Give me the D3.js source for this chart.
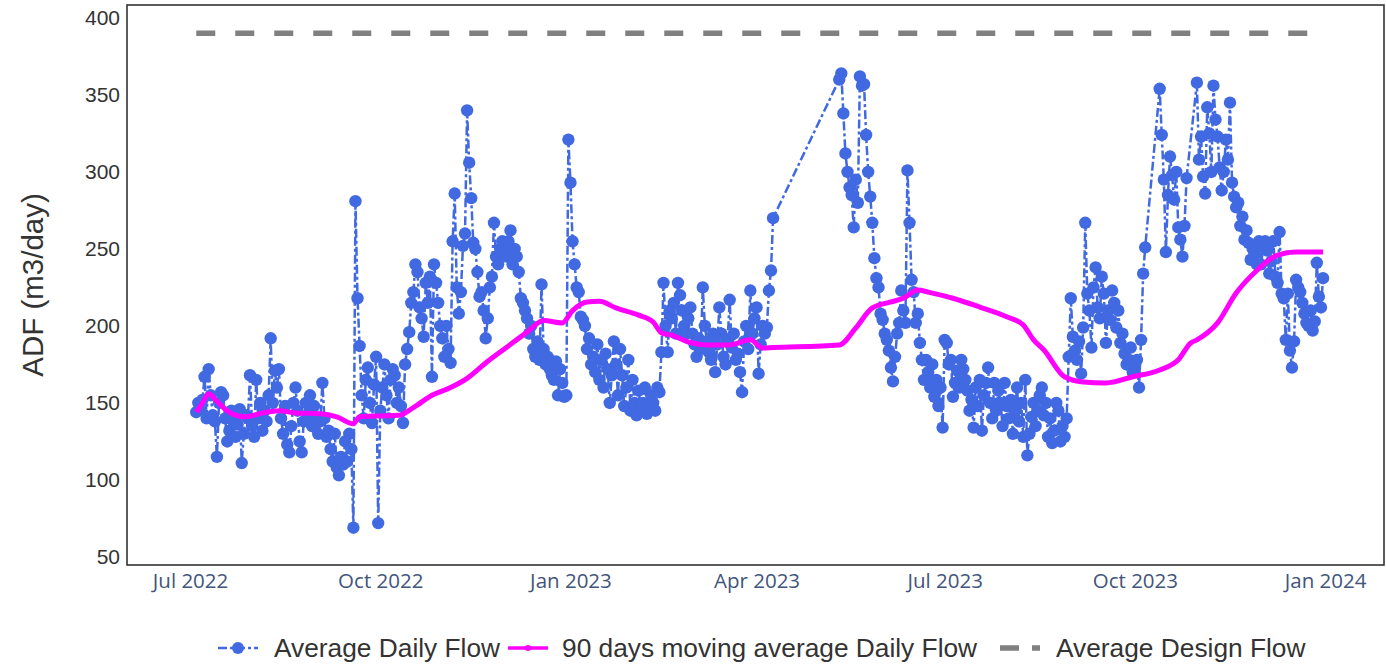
<!DOCTYPE html>
<html>
<head>
<meta charset="utf-8">
<script src="https://cdn.jsdelivr.net/npm/d3@7"></script>
<style>
  html, body { margin: 0; padding: 0; background: #ffffff; }
  svg { display: block; }
</style>
</head>
<body>
<svg id="chart" width="1386" height="664"></svg>
<script>
// ---- Average daily flow (m3/day), one array per month, null = no reading ----
const monthKeys = ["2022-07","2022-08","2022-09","2022-10","2022-11","2022-12",
                   "2023-01","2023-02","2023-03","2023-04","2023-05","2023-06",
                   "2023-07","2023-08","2023-09","2023-10","2023-11","2023-12"];

const flowJul2022 = [null,null,null,144,150,146,152,167,140,172,155,142,138,115,150,157,155,140,125,132,145,138,128,136,146,111,130,142,140,168,135];
const flowAug2022 = [128,165,140,150,132,145,138,155,192,150,171,160,172,140,130,148,123,118,135,150,160,145,125,118,138,150,142,155,135,148,140];
const flowSep2022 = [130,138,163,140,128,132,120,112,130,108,103,115,110,125,112,130,120,69,281,218,187,155,140,165,173,150,137,162,180,72];
const flowOct2022 = [145,160,175,155,140,165,172,168,150,160,148,137,175,185,196,215,222,240,235,212,205,193,228,215,232,167,240,228,215,200,192];
const flowNov2022 = [180,200,185,176,255,286,225,208,222,252,260,340,306,283,254,250,235,219,222,210,192,205,225,232,267,245,240,250,255,248];
const flowDec2022 = [245,255,262,240,250,245,235,218,215,210,205,195,200,185,180,190,178,227,185,175,180,172,168,165,177,155,172,163,154,155,321];
const flowJan2023 = [293,255,240,225,222,206,204,200,185,192,175,180,170,188,165,178,160,182,172,150,168,190,175,155,185,168,148,160,178,145,165];
const flowFeb2023 = [150,142,158,145,150,160,143,148,155,150,145,160,157,183,228,200,183,210,205,215,195,228,220,210,200,195,205,212];
const flowMar2023 = [195,188,180,192,185,225,200,190,183,178,195,170,188,212,195,180,175,190,217,186,195,178,182,170,157,190,200,185,223,195,205];
const flowApr2023 = [212,169,188,200,195,199,223,236,270,null,null,null,null,null,null,null,null,null,null,null,null,null,null,null,null,null,null,null,null,null];
const flowMay2023 = [null,null,null,null,null,null,null,null,null,null,360,364,338,312,300,290,285,264,295,280,362,356,357,324,300,284,267,244,231,225,208];
const flowJun2023 = [204,195,191,184,173,164,180,195,202,223,210,202,301,267,230,222,202,208,189,178,165,178,170,160,175,154,165,148,160,134];
const flowJul2023 = [191,189,175,178,154,163,171,160,178,172,165,158,145,152,134,160,148,165,132,155,163,173,150,140,163,145,158,150,135,163,148];
const flowAug2023 = [140,152,130,145,160,138,150,128,165,116,130,141,150,135,145,155,160,142,150,128,140,124,132,150,145,125,135,128,140,180,218];
const flowSep2023 = [193,184,178,190,169,199,267,221,210,186,225,238,212,205,232,221,189,210,204,223,215,199,210,189,195,182,175,178,186,170];
const flowOct2023 = [172,178,160,191,234,251,null,null,null,null,null,null,354,324,295,248,285,310,298,282,300,264,256,245,265,296,null,null,null,null,358];
const flowNov2023 = [308,323,297,286,342,325,300,356,334,323,303,288,300,321,308,345,293,284,277,280,265,271,256,262,254,243,250,247,240,255];
const flowDec2023 = [240,250,255,249,234,242,255,232,228,261,221,218,191,221,184,173,190,230,225,222,215,208,202,200,210,197,203,241,219,212,231];

const flowMonths = [flowJul2022, flowAug2022, flowSep2022, flowOct2022, flowNov2022, flowDec2022,
                    flowJan2023, flowFeb2023, flowMar2023, flowApr2023, flowMay2023, flowJun2023,
                    flowJul2023, flowAug2023, flowSep2023, flowOct2023, flowNov2023, flowDec2023];

// ---- 90 days moving average of the daily flow ----
const maDates  = ["2022-07-04","2022-07-07","2022-07-10","2022-07-14","2022-07-20","2022-07-28","2022-08-05","2022-08-13",
                  "2022-08-21","2022-09-02","2022-09-10","2022-09-18","2022-09-21","2022-10-01","2022-10-10","2022-10-17",
                  "2022-10-26","2022-11-04","2022-11-12","2022-11-21","2022-12-01","2022-12-11","2022-12-19","2022-12-28",
                  "2023-01-02","2023-01-09","2023-01-15","2023-01-23","2023-02-03","2023-02-10","2023-02-14","2023-02-19",
                  "2023-02-27","2023-03-09","2023-03-19","2023-03-29","2023-04-04","2023-04-09","2023-05-11","2023-05-19",
                  "2023-05-27","2023-06-05","2023-06-11","2023-06-18","2023-06-23","2023-07-05","2023-07-18","2023-07-31",
                  "2023-08-08","2023-08-13","2023-08-18","2023-08-28","2023-09-06","2023-09-17","2023-09-30","2023-10-13",
                  "2023-10-22","2023-10-28","2023-10-31","2023-11-10","2023-11-19","2023-11-29","2023-12-09","2023-12-18",
                  "2023-12-31"];
const maValues = [144,150,156,151,144,141,143.5,145,
                  143.5,143,141,136.5,141,141.6,142,147,
                  155,160,166,176,186,196,203.5,202,
                  210,215.6,216,211.7,207,202.6,195.5,194,
                  189.6,187.7,187.7,191,185.7,186,187.7,198.7,
                  211.7,215.6,218,223.4,222,218,212.3,206,
                  200.6,191,184.4,167,163.6,163,167,171.4,
                  178,189,191,202,221.4,236,246,248,
                  248];

// ---- Average design flow ----
const designFlowValue = 390;
const designFlowSpan = ["2022-07-04", "2023-12-31"];

// ---- Axis ticks ----
const yTickValues = [50, 100, 150, 200, 250, 300, 350, 400];
const xTickDates = ["2022-07-01","2022-10-01","2023-01-01","2023-04-01","2023-07-01","2023-10-01","2024-01-01"];
const xDomainDates = ["2022-05-31T12:00", "2024-01-29T12:00"];
const yDomain = [44.8, 408.4];

const seriesNames = ["Average Daily Flow", "90 days moving average Daily Flow", "Average Design Flow"];
const colors = { flow: "#4169E1", ma: "#FF00FF", design: "#808080" };

// ---- Build series ----
const parseDay = d3.timeParse("%Y-%m-%d");
const parseStamp = d3.timeParse("%Y-%m-%dT%H:%M");
const daily = [];
monthKeys.forEach((key, i) => {
  flowMonths[i].forEach((v, k) => {
    if (v !== null) daily.push({ date: parseDay(key + "-" + String(k + 1).padStart(2, "0")), value: v });
  });
});
const movingAvg = maDates.map((d, i) => ({ date: parseDay(d), value: maValues[i] }));
const design = designFlowSpan.map(d => ({ date: parseDay(d), value: designFlowValue }));

// ---- Layout ----
const svg = d3.select("#chart");
const plot = { left: 127, right: 1384, top: 5, bottom: 565 };

const x = d3.scaleTime()
  .domain(xDomainDates.map(parseStamp))
  .range([plot.left, plot.right]);
const y = d3.scaleLinear()
  .domain(yDomain)
  .range([plot.bottom, plot.top]);

svg.append("defs").append("clipPath").attr("id", "plot-clip")
  .append("rect")
  .attr("x", plot.left).attr("y", plot.top)
  .attr("width", plot.right - plot.left).attr("height", plot.bottom - plot.top);

// ---- Axes ----
const yAxis = d3.axisLeft(y).tickValues(yTickValues).tickSize(0).tickPadding(7);
const yG = svg.append("g").attr("transform", `translate(${plot.left},0)`).call(yAxis);
yG.select(".domain").remove();
yG.selectAll("text")
  .attr("font-family", "'Liberation Sans', Arial, sans-serif")
  .attr("font-size", 21)
  .attr("fill", "#333333");

const xAxis = d3.axisBottom(x)
  .tickValues(xTickDates.map(parseDay))
  .tickFormat(d3.timeFormat("%b %Y"))
  .tickSize(0).tickPadding(8);
const xG = svg.append("g").attr("transform", `translate(0,${plot.bottom})`).call(xAxis);
xG.select(".domain").remove();
xG.selectAll("text")
  .attr("font-family", "'Open Sans', 'DejaVu Sans', sans-serif")
  .attr("font-size", 20.5)
  .attr("fill", "#42557a");

svg.append("text")
  .attr("transform", `translate(43,${(plot.top + plot.bottom) / 2}) rotate(-90)`)
  .attr("text-anchor", "middle")
  .attr("font-family", "'Liberation Sans', Arial, sans-serif")
  .attr("font-size", 29.5)
  .attr("fill", "#333333")
  .text("ADF (m3/day)");

// ---- Series ----
const g = svg.append("g").attr("clip-path", "url(#plot-clip)");

const straight = d3.line().x(d => x(d.date)).y(d => y(d.value));
const smooth = d3.line().x(d => x(d.date)).y(d => y(d.value)).curve(d3.curveMonotoneX);

g.append("path")
  .datum(daily)
  .attr("d", straight)
  .attr("fill", "none")
  .attr("stroke", colors.flow)
  .attr("stroke-width", 2.5)
  .attr("stroke-dasharray", "9,3,3,3");

g.append("g").selectAll("circle")
  .data(daily)
  .join("circle")
  .attr("cx", d => x(d.date))
  .attr("cy", d => y(d.value))
  .attr("r", 6.2)
  .attr("fill", colors.flow);

g.append("path")
  .datum(movingAvg)
  .attr("d", smooth)
  .attr("fill", "none")
  .attr("stroke", colors.ma)
  .attr("stroke-width", 5)
  .attr("stroke-linejoin", "round");

g.append("path")
  .datum(design)
  .attr("d", straight)
  .attr("fill", "none")
  .attr("stroke", colors.design)
  .attr("stroke-width", 5.5)
  .attr("stroke-dasharray", "19,20");

// ---- Frame ----
svg.append("rect")
  .attr("x", plot.left).attr("y", plot.top)
  .attr("width", plot.right - plot.left).attr("height", plot.bottom - plot.top)
  .attr("fill", "none")
  .attr("stroke", "#333333")
  .attr("stroke-width", 1.6);

// ---- Legend ----
const legend = svg.append("g").attr("transform", "translate(0,648)");
const legendFont = "'Liberation Sans', Arial, sans-serif";
const legendItems = [
  { x: 218, textX: 274, name: seriesNames[0], kind: "flow" },
  { x: 508, textX: 562, name: seriesNames[1], kind: "ma" },
  { x: 1000, textX: 1056, name: seriesNames[2], kind: "design" }
];
legendItems.forEach(item => {
  const it = legend.append("g");
  if (item.kind === "flow") {
    it.append("line").attr("x1", item.x).attr("x2", item.x + 40).attr("y1", 0).attr("y2", 0)
      .attr("stroke", colors.flow).attr("stroke-width", 2.5).attr("stroke-dasharray", "9,3,3,3");
    it.append("circle").attr("cx", item.x + 20).attr("cy", 0).attr("r", 6).attr("fill", colors.flow);
  } else if (item.kind === "ma") {
    it.append("line").attr("x1", item.x).attr("x2", item.x + 40).attr("y1", 0).attr("y2", 0)
      .attr("stroke", colors.ma).attr("stroke-width", 3.5);
    it.append("circle").attr("cx", item.x + 20).attr("cy", 0).attr("r", 3).attr("fill", colors.ma);
  } else {
    it.append("line").attr("x1", item.x).attr("x2", item.x + 40).attr("y1", 0).attr("y2", 0)
      .attr("stroke", colors.design).attr("stroke-width", 5.5).attr("stroke-dasharray", "19,13");
  }
  it.append("text")
    .attr("x", item.textX).attr("y", 0).attr("dy", "0.35em")
    .attr("font-family", legendFont).attr("font-size", 26.3)
    .attr("fill", "#333333")
    .text(item.name);
});
</script>
</body>
</html>
